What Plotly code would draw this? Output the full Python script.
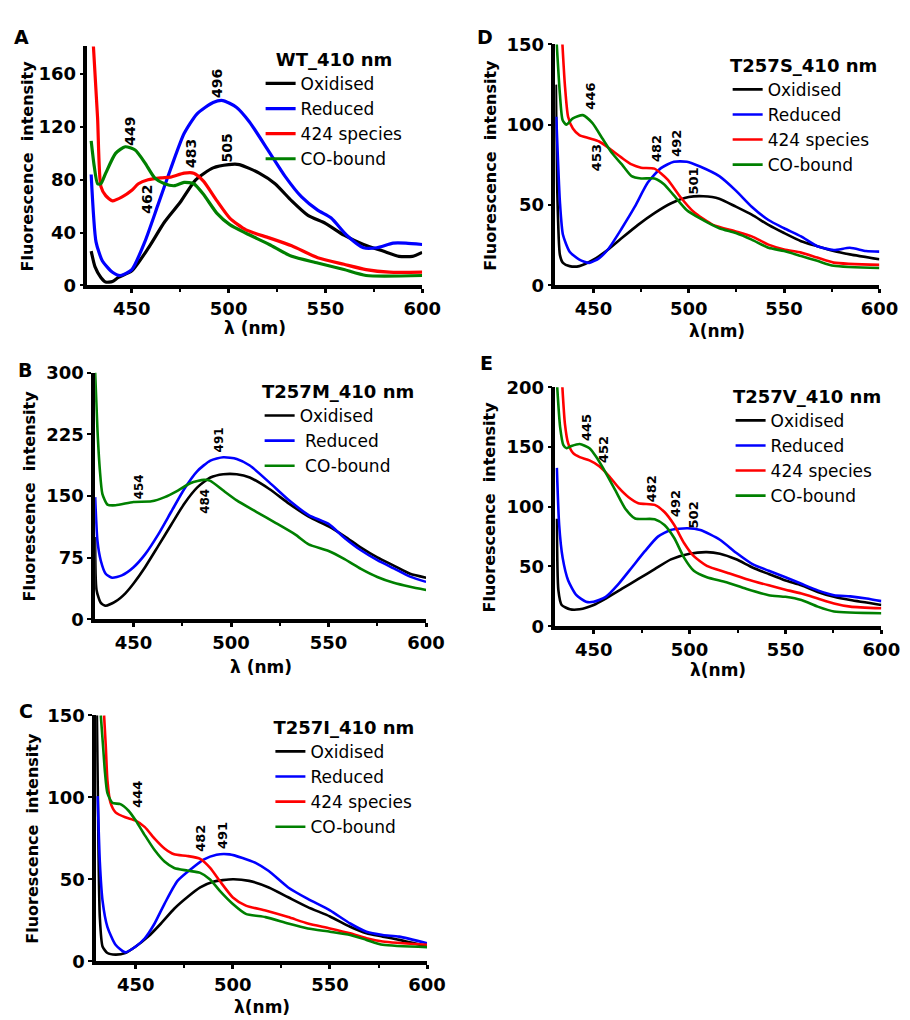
import plotly.graph_objects as go

# ---------------- data (wavelength nm, fluorescence intensity) ----------------
# Panel A : WT_410 nm
A_OX_X = [429, 431, 434, 436.5, 440, 443, 450, 458.4, 466.9, 475, 483, 492, 500, 505.6, 515.8, 524, 532.6, 541, 550, 559.6, 569.7, 579.8, 588, 595, 600]
A_OX_Y = [26, 14, 6, 2.5, 3, 6, 11, 28, 48, 63, 80, 89, 91.5, 91.5, 85, 77, 64, 53, 47, 38, 31, 26, 22, 22, 25]
A_RED_X = [429, 431.5, 434.8, 440, 444, 450, 456.7, 463.5, 470, 477, 483.7, 492, 497, 504, 510.7, 521, 529, 537.7, 546, 553, 561, 569.7, 576.5, 585, 591.6, 600]
A_RED_Y = [84, 33, 18.5, 10, 7.5, 12, 33, 61, 88, 115, 130, 138.5, 140, 135, 124, 101, 83, 67, 57, 51, 38, 28.5, 28.5, 32, 32, 31]
A_424_X = [430, 432.3, 434, 436.5, 440, 445, 450, 453.4, 458.4, 465, 470, 477, 482, 487, 494, 500.6, 509, 521, 532.6, 546, 559.6, 571, 583, 600]
A_424_Y = [185, 127, 75, 68, 64, 67, 72, 77, 80, 81.5, 82, 85, 85, 79, 64, 51, 42, 36, 30, 21, 16, 12, 10, 10]
A_CO_X = [429, 430.6, 432.3, 434, 436.5, 441.6, 446.6, 451.7, 456.7, 461.8, 466.9, 472, 477, 482, 487, 494, 500.6, 509, 521, 532.6, 546, 559.6, 571, 600]
A_CO_Y = [109.5, 90, 77, 77, 85, 100, 105, 102.5, 93, 81.5, 77, 75.5, 78, 77, 69, 54.5, 46, 39.5, 31, 22, 17, 12, 7.5, 7.5]

# Panel B : T257M_410 nm
B_OX_X = [430.3, 431, 433.2, 435.7, 440.8, 445.8, 450, 455.9, 462.6, 469.3, 476, 482.7, 489.4, 496, 502.9, 509.6, 519.6, 529.7, 539.8, 550, 558.2, 566.6, 575, 583.4, 591.8, 600]
B_OX_Y = [100, 35.7, 20, 16.6, 21.8, 31.7, 43.6, 63.4, 89, 115, 140.7, 160.5, 172.4, 176.4, 176.4, 172.4, 158.5, 140.7, 124.9, 113, 101, 87.2, 75.3, 65.4, 55.5, 50.7]
B_RED_X = [430.3, 431.5, 433.2, 435.7, 439, 444, 450, 455.9, 462.6, 469.3, 476, 482.7, 489.4, 496, 502.9, 509.6, 519.6, 529.7, 539.8, 550, 558.2, 566.6, 575, 583.4, 591.8, 600]
B_RED_Y = [148.6, 95, 71.3, 55.5, 50.7, 53.5, 63.4, 79, 103, 130.8, 158.5, 180.3, 193, 197, 195, 187, 166.5, 144.7, 126.8, 116, 99, 84, 72, 62, 52, 45.6]
B_CO_X = [430.3, 431.5, 432.7, 434, 436.6, 440.8, 450, 459.2, 466, 472.7, 479.4, 486, 489.4, 496, 502.9, 512.9, 523, 533, 539.8, 550, 558.2, 566.6, 575, 583.4, 591.8, 600]
B_CO_Y = [300, 230, 182, 152.6, 139.5, 138.7, 142.7, 143.5, 148.6, 156.6, 165.7, 169.6, 168.4, 156.6, 144.7, 130.8, 117, 103, 91.2, 83.2, 73.3, 61.4, 51.5, 44.4, 39.6, 35.7]

# Panel C : T257I_410 nm
C_OX_X = [430, 430.8, 431.5, 432.9, 435.4, 439.6, 444.6, 450, 456.4, 463, 469.8, 476.5, 483.2, 489.9, 500, 508.4, 518.5, 528.5, 538.6, 550, 560.4, 568.8, 577.2, 585.6, 600]
C_OX_Y = [150, 70, 27, 9, 5, 4, 5, 9, 15, 23, 32, 39, 45, 48.5, 50, 49, 45, 39, 33, 27.3, 21, 17, 15, 13, 9]
C_RED_X = [430.4, 431.5, 432.9, 435.4, 439.6, 444.6, 450, 454.7, 459.7, 464.8, 471.5, 479.3, 484.9, 491.6, 498.3, 505, 511.7, 518.5, 528.5, 538.6, 550, 560.4, 568.8, 577.2, 585.6, 600]
C_RED_Y = [100.7, 60.8, 37, 21, 10, 5.4, 9, 14, 23, 35, 49, 57, 62, 65, 65.2, 63, 60, 55, 45, 38, 31, 23, 18, 16, 15, 11]
C_424_X = [433.7, 434.6, 435.4, 437, 439.6, 444.6, 450, 454.7, 459.7, 464.8, 469.8, 476.5, 483.2, 488.3, 493.3, 500, 506.7, 516.8, 528.5, 538.6, 550, 560.4, 568.8, 577.2, 600]
C_424_Y = [150, 130.7, 110.7, 96.7, 90.8, 87.8, 85.8, 81.8, 74.8, 68.8, 65.2, 64.2, 62.4, 56.9, 48.9, 38.9, 33.9, 30.9, 26.9, 23, 20, 17, 14, 12, 10]
C_CO_X = [432, 433.2, 434.2, 435.4, 437.9, 442.1, 446.3, 450, 454.7, 459.7, 464.8, 469.8, 476.5, 483.2, 488.3, 493.3, 500, 506.7, 516.8, 528.5, 538.6, 550, 560.4, 568.8, 577.2, 600]
C_CO_Y = [150, 130.7, 114.7, 102.7, 96.7, 95.8, 91.8, 85.8, 76.8, 67.8, 60.8, 56.9, 55.3, 53.9, 49.9, 42.9, 34.9, 28.9, 26.9, 23, 20, 18, 16, 13, 10, 8.6]

# Panel D : T257S_410 nm
D_OX_X = [430.3, 431, 432.4, 434, 437.5, 442.6, 450, 456.3, 464.9, 473.4, 482, 490.5, 500, 507.6, 516, 524.7, 533, 541.8, 550, 558.9, 567.4, 576, 584.5, 600]
D_OX_Y = [125, 60, 19, 14, 12, 12, 16, 21, 29.5, 37.7, 45, 51, 55, 55.5, 54, 49, 44, 37.7, 32.6, 27.5, 24.4, 21.4, 19.3, 16.3]
D_RED_X = [430.5, 432.4, 434, 437.5, 442.6, 447.8, 453, 458, 464.9, 471.7, 478.5, 485.4, 492.2, 499, 505.9, 516, 524.7, 533, 541.8, 550, 558.9, 567.4, 576, 584.5, 593, 600]
D_RED_Y = [105, 52, 31.5, 21, 16, 14, 17, 23, 35.6, 49, 64, 73, 77, 77, 74, 68, 59, 49, 40.7, 35.6, 30.5, 24.4, 22, 23.4, 21.4, 21]
D_424_X = [433.5, 435, 436.7, 439.2, 442.6, 447.8, 453, 458, 464.9, 470, 475, 482, 488.8, 495.6, 502.5, 512.7, 524.7, 533, 541.8, 550, 558.9, 567.4, 576, 600]
D_424_Y = [155, 125, 105, 97.7, 93.6, 91.6, 89.6, 85.5, 79.4, 75.3, 73.3, 72.7, 66, 55, 45.8, 37.7, 33.6, 30.5, 25.4, 22.4, 20.4, 17.3, 14.2, 12.8]
D_CO_X = [430.5, 432.4, 433.8, 435.8, 439.2, 444.4, 449.5, 454.6, 459.7, 464.9, 470, 475, 482, 487, 492.2, 499, 505.9, 516, 524.7, 533, 541.8, 550, 558.9, 567.4, 576, 600]
D_CO_Y = [155, 119, 103, 100, 104, 106, 101, 91.6, 82.4, 75.3, 68, 66.6, 66.6, 63, 56, 46.8, 41.7, 35.6, 32.6, 28.5, 23.4, 21.4, 18.3, 15.3, 12.2, 10.8]

# Panel E : T257V_410 nm
E_OX_X = [430.8, 431.6, 433.3, 437.6, 442.7, 450, 456.3, 464.8, 473.3, 481.8, 490.3, 500, 509, 515.8, 524.3, 532.8, 541.3, 550, 558.3, 566.8, 575.3, 583.8, 600]
E_OX_Y = [90, 30, 17.8, 14.2, 14.2, 17.8, 23.2, 31.4, 39.6, 47.8, 56, 60.7, 62, 60.7, 56, 49.2, 43.7, 38.3, 34.2, 28.7, 24.6, 21.9, 17.8]
E_RED_X = [430.8, 432, 433.8, 436.7, 441, 446, 450, 456.3, 463, 469.9, 476.7, 483.5, 490.3, 498.8, 505.6, 515.8, 524.3, 532.8, 541.3, 550, 558.3, 566.8, 575.3, 583.8, 592.3, 600]
E_RED_Y = [132.5, 84.7, 57.4, 38.3, 26, 20.5, 20.5, 24.6, 35.5, 49.2, 62.8, 75, 80.6, 82, 80.6, 72.4, 61.5, 52, 46.4, 41, 35.5, 30, 26, 25, 23.2, 21]
E_424_X = [433.5, 435, 436.7, 439.3, 442.7, 447.8, 452.9, 458, 463, 468.2, 473.3, 481.8, 486.9, 492, 497.1, 502.2, 509, 519.2, 529.4, 541.3, 550, 558.3, 566.8, 575.3, 583.8, 600]
E_424_Y = [205, 169.4, 153, 144.8, 141.5, 138.8, 133.9, 125.7, 116, 108, 103, 101.6, 95.6, 84.7, 69.7, 58.7, 50.5, 45, 39.6, 34.2, 30.6, 27.3, 23.2, 19.1, 16.4, 15]
E_CO_X = [430.8, 432.5, 434.2, 435.9, 438.4, 442.7, 447.8, 451.2, 456.3, 461.4, 466.5, 471.6, 481.8, 486.9, 492, 497.1, 502.2, 509, 519.2, 529.4, 541.3, 550, 558.3, 566.8, 575.3, 600]
E_CO_Y = [205, 166.7, 151.6, 149, 150.8, 152.5, 149, 142, 128.4, 113.4, 98.4, 90.2, 89.6, 84.7, 73.8, 57.4, 46.4, 41, 36.9, 31.4, 26, 24.6, 21.9, 16.4, 12.3, 10.9]

# peak labels (wavelength, label height)
A_PEAK_X = [449, 457.8, 480.9, 494.3, 499.4]
A_PEAK_Y = [117, 65.5, 100, 153, 104]
A_PEAK_T = ["449", "462", "483", "496", "505"]
B_PEAK_X = [452.5, 486.9, 494]
B_PEAK_Y = [161, 143.5, 218]
B_PEAK_T = ["454", "484", "491"]
C_PEAK_X = [450.5, 483.2, 495]
C_PEAK_Y = [102, 74.8, 76.4]
C_PEAK_T = ["444", "482", "491"]
D_PEAK_X = [448.6, 452, 482.8, 493.6, 502.5]
D_PEAK_Y = [118, 79.4, 85.5, 88.5, 65]
D_PEAK_T = ["446", "453", "482", "492", "501"]
E_PEAK_X = [446.6, 455.4, 480, 492.3, 502.2]
E_PEAK_Y = [166, 147.5, 114.8, 103, 93.4]
E_PEAK_T = ["445", "452", "482", "492", "502"]

SERIES_NAMES = ["Oxidised", "Reduced", "424 species", "CO-bound"]
COLORS = {"Oxidised": "#000000", "Reduced": "#0000ff", "424 species": "#ff0000", "CO-bound": "#008000"}

W, H = 910, 1020

def px(x):
    return x / W

def py(y):
    return 1 - y / H

panels = [
    dict(k="", letter="A", title="WT_410 nm",
         series=[("Oxidised", A_OX_X, A_OX_Y), ("Reduced", A_RED_X, A_RED_Y), ("424 species", A_424_X, A_424_Y), ("CO-bound", A_CO_X, A_CO_Y)],
         xr=[427, 600], yr=[0, 181], yt=[0, 40, 80, 120, 160], dom=(81, 423, 28, 272), leg=(258, 24),
         lpos=(14, 18), xt="λ (nm)", xty=316, ytx=20, peaks=(A_PEAK_X, A_PEAK_Y, A_PEAK_T), lw=3.2, pfs=14),
    dict(k="2", letter="B", title="T257M_410 nm",
         series=[("Oxidised", B_OX_X, B_OX_Y), (" Reduced", B_RED_X, B_RED_Y), (" CO-bound", B_CO_X, B_CO_Y)],
         xr=[430.3, 600], yr=[0, 300], yt=[0, 75, 150, 225, 300], dom=(89, 427, 361, 613), leg=(257, 363),
         lpos=(17, 358), xt="λ (nm)", xty=662, ytx=22, peaks=(B_PEAK_X, B_PEAK_Y, B_PEAK_T), lw=2.6, pfs=12),
    dict(k="3", letter="C", title="T257I_410 nm",
         series=[("Oxidised", C_OX_X, C_OX_Y), ("Reduced", C_RED_X, C_RED_Y), ("424 species", C_424_X, C_424_Y), ("CO-bound", C_CO_X, C_CO_Y)],
         xr=[429.6, 600], yr=[0, 150], yt=[0, 50, 100, 150], dom=(90, 428, 711, 962), leg=(268, 706),
         lpos=(18, 707), xt="λ(nm)", xty=1009, ytx=25, peaks=(C_PEAK_X, C_PEAK_Y, C_PEAK_T), lw=2.6, pfs=13),
    dict(k="4", letter="D", title="T257S_410 nm",
         series=[("Oxidised", D_OX_X, D_OX_Y), ("Reduced", D_RED_X, D_RED_Y), ("424 species", D_424_X, D_424_Y), ("CO-bound", D_CO_X, D_CO_Y)],
         xr=[430, 600], yr=[0, 150], yt=[0, 50, 100, 150], dom=(559, 890, 26, 272), leg=(735, 30),
         lpos=(487, 18), xt="λ(nm)", xty=319, ytx=493, peaks=(D_PEAK_X, D_PEAK_Y, D_PEAK_T), lw=2.6, pfs=13),
    dict(k="5", letter="E", title="T257V_410 nm",
         series=[("Oxidised", E_OX_X, E_OX_Y), ("Reduced", E_RED_X, E_RED_Y), ("424 species", E_424_X, E_424_Y), ("CO-bound", E_CO_X, E_CO_Y)],
         xr=[430, 600], yr=[0, 200], yt=[0, 50, 100, 150, 200], dom=(559, 892, 376, 620), leg=(738, 368),
         lpos=(489, 351), xt="λ(nm)", xty=665, ytx=492, peaks=(E_PEAK_X, E_PEAK_Y, E_PEAK_T), lw=2.6, pfs=13),
]

FONT = "DejaVu Sans"
fig = go.Figure()
annotations = []
layout = dict(
    width=W, height=H, margin=dict(l=0, r=0, t=0, b=0),
    paper_bgcolor="white", plot_bgcolor="white", showlegend=True,
    font=dict(family=FONT, color="black"),
)

for p in panels:
    k = p["k"]
    xa, ya = "x" + k, "y" + k
    legname = "legend" + k
    for name, xs, ys in p["series"]:
        fig.add_trace(go.Scatter(
            x=xs, y=ys, mode="lines", name=name,
            line=dict(color=COLORS[name.strip()], width=p["lw"], shape="spline", smoothing=0.6),
            xaxis=xa, yaxis=ya, legend=legname, hoverinfo="skip",
        ))
    l, r, t, b = p["dom"]
    layout["xaxis" + k] = dict(
        domain=[px(l), px(r)], range=p["xr"], anchor=ya,
        showline=True, linecolor="black", linewidth=3.5, mirror=False,
        showgrid=False, zeroline=False,
        tickvals=[450, 500, 550, 600], ticks="outside", ticklen=4, tickwidth=2.5, tickcolor="black",
        minor=dict(tickvals=[475, 525, 575], ticks="outside", ticklen=3, tickwidth=2, tickcolor="black", showgrid=False),
        tickfont=dict(family=FONT, size=18, weight="bold", color="black"),
    )
    layout["yaxis" + k] = dict(
        domain=[py(b), py(t)], range=p["yr"], anchor=xa,
        showline=True, linecolor="black", linewidth=3.5,
        showgrid=False, zeroline=False,
        tickvals=p["yt"], ticks="outside", ticklen=4, tickwidth=2, tickcolor="black",
        tickfont=dict(family=FONT, size=18, weight="bold", color="black"),
    )
    lx, ltop = p["leg"]
    layout[legname] = dict(
        x=px(lx), y=py(ltop), xanchor="left", yanchor="top", xref="paper", yref="paper",
        bgcolor="rgba(0,0,0,0)", borderwidth=0,
        font=dict(family=FONT, size=17, color="black"),
        title=dict(text=p["title"], side="top center", font=dict(family=FONT, size=18, weight="bold", color="black")),
        tracegroupgap=0, itemclick=False, itemdoubleclick=False,
    )
    annotations.append(dict(text=p["letter"], x=px(p["lpos"][0]), y=py(p["lpos"][1]), xref="paper", yref="paper",
                            showarrow=False, xanchor="center", yanchor="middle",
                            font=dict(family=FONT, size=19, weight="bold", color="black")))
    annotations.append(dict(text=p["xt"], x=px((l + r) / 2), y=py(p["xty"]), xref="paper", yref="paper",
                            showarrow=False, xanchor="center", yanchor="middle",
                            font=dict(family=FONT, size=17, weight="bold", color="black")))
    annotations.append(dict(text="Fluorescence  intensity", x=px(p["ytx"]), y=py((t + b) / 2), xref="paper", yref="paper",
                            showarrow=False, xanchor="center", yanchor="middle", textangle=-90,
                            font=dict(family=FONT, size=16, weight="bold", color="black")))
    for xv, yv, tv in zip(*p["peaks"]):
        annotations.append(dict(text=tv, x=xv, y=yv, xref=xa, yref=ya, showarrow=False,
                                xanchor="center", yanchor="middle", textangle=-90,
                                font=dict(family=FONT, size=p["pfs"], weight="bold", color="black")))

layout["annotations"] = annotations
fig.update_layout(**layout)
fig.write_html("out.html")
